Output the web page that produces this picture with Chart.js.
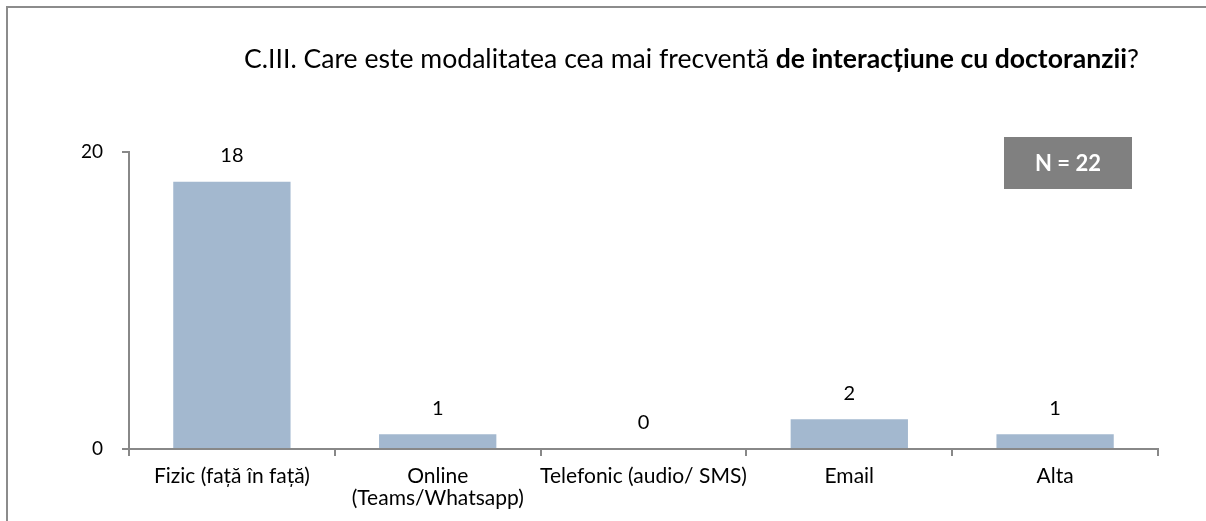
<!DOCTYPE html>
<html>
<head>
<meta charset="utf-8">
<script src="https://cdn.jsdelivr.net/npm/chart.js@4"></script>
<style>
  html, body { margin: 0; padding: 0; background: #fff; }
  #frame { position: absolute; left: 6px; top: 6px; width: 1210px; height: 530px; border-top: 2px solid #8c8c8c; border-left: 2px solid #8c8c8c; }
  canvas { position: absolute; left: 0; top: 0; }
</style>
</head>
<body>
<div id="frame"></div>
<canvas id="c" width="1206" height="521"></canvas>
<script>
// data
var categories = ['Fizic (față în față)', ['Online', '(Teams/Whatsapp)'], 'Telefonic (audio/ SMS)', 'Email', 'Alta'];
var counts = [18, 1, 0, 2, 1];
var yTicks = [0, 20];
var titleNormal = 'C.III. Care este modalitatea cea mai frecventă ';
var titleBold = 'de interacțiune cu doctoranzii';
var titleEnd = '?';
var nLabel = 'N = 22';

var FONT = 'Lato, sans-serif';

// title, N box, value labels
var extras = {
  id: 'extras',
  afterDraw: function (chart) {
    var c = chart.ctx;
    c.save();
    c.fillStyle = '#000';
    c.textBaseline = 'alphabetic';
    c.textAlign = 'left';
    var x = 244, y = 68;
    c.font = '26.6px ' + FONT;
    c.fillText(titleNormal, x, y);
    x += c.measureText(titleNormal).width;
    c.font = 'bold 26.6px ' + FONT;
    c.fillText(titleBold, x, y);
    x += c.measureText(titleBold).width;
    c.font = '26.6px ' + FONT;
    c.fillText(titleEnd, x, y);

    // N box
    c.fillStyle = '#808080';
    c.fillRect(1004, 137, 128, 52);
    c.fillStyle = '#fff';
    c.font = 'bold 22px ' + FONT;
    c.textAlign = 'center';
    c.textBaseline = 'middle';
    c.fillText(nLabel, 1068, 164);

    // value labels
    c.fillStyle = '#000';
    c.font = '20px ' + FONT;
    var meta = chart.getDatasetMeta(0);
    meta.data.forEach(function (bar, i) {
      c.fillText(String(counts[i]), bar.x, bar.y - 26);
    });
    c.restore();
  }
};

new Chart(document.getElementById('c'), {
  type: 'bar',
  data: {
    labels: categories,
    datasets: [{
      data: counts,
      backgroundColor: '#a3b8cf',
      borderWidth: 0,
      categoryPercentage: 1,
      barPercentage: 0.57
    }]
  },
  options: {
    responsive: false,
    animation: false,
    devicePixelRatio: 1,
    layout: { padding: { top: 152, right: 48, left: 0, bottom: 0 } },
    plugins: {
      legend: { display: false },
      tooltip: { enabled: false }
    },
    scales: {
      x: {
        grid: { drawOnChartArea: false, offset: true, tickLength: 7, color: '#888', lineWidth: 2 },
        border: { color: '#888', width: 2 },
        ticks: { color: '#000', font: { family: FONT, size: 21, lineHeight: 1.05 }, padding: 9, maxRotation: 0, autoSkip: false },
        afterFit: function (s) { s.height = 521 - 449; }
      },
      y: {
        min: 0,
        max: 20,
        afterBuildTicks: function (s) { s.ticks = yTicks.map(function (v) { return { value: v }; }); },
        grid: { drawOnChartArea: false, tickLength: 7, color: '#888', lineWidth: 2 },
        border: { color: '#888', width: 2 },
        ticks: { color: '#000', font: { family: FONT, size: 19 }, padding: 19 },
        afterFit: function (s) { s.width = 129; }
      }
    }
  },
  plugins: [extras]
});
</script>
</body>
</html>
